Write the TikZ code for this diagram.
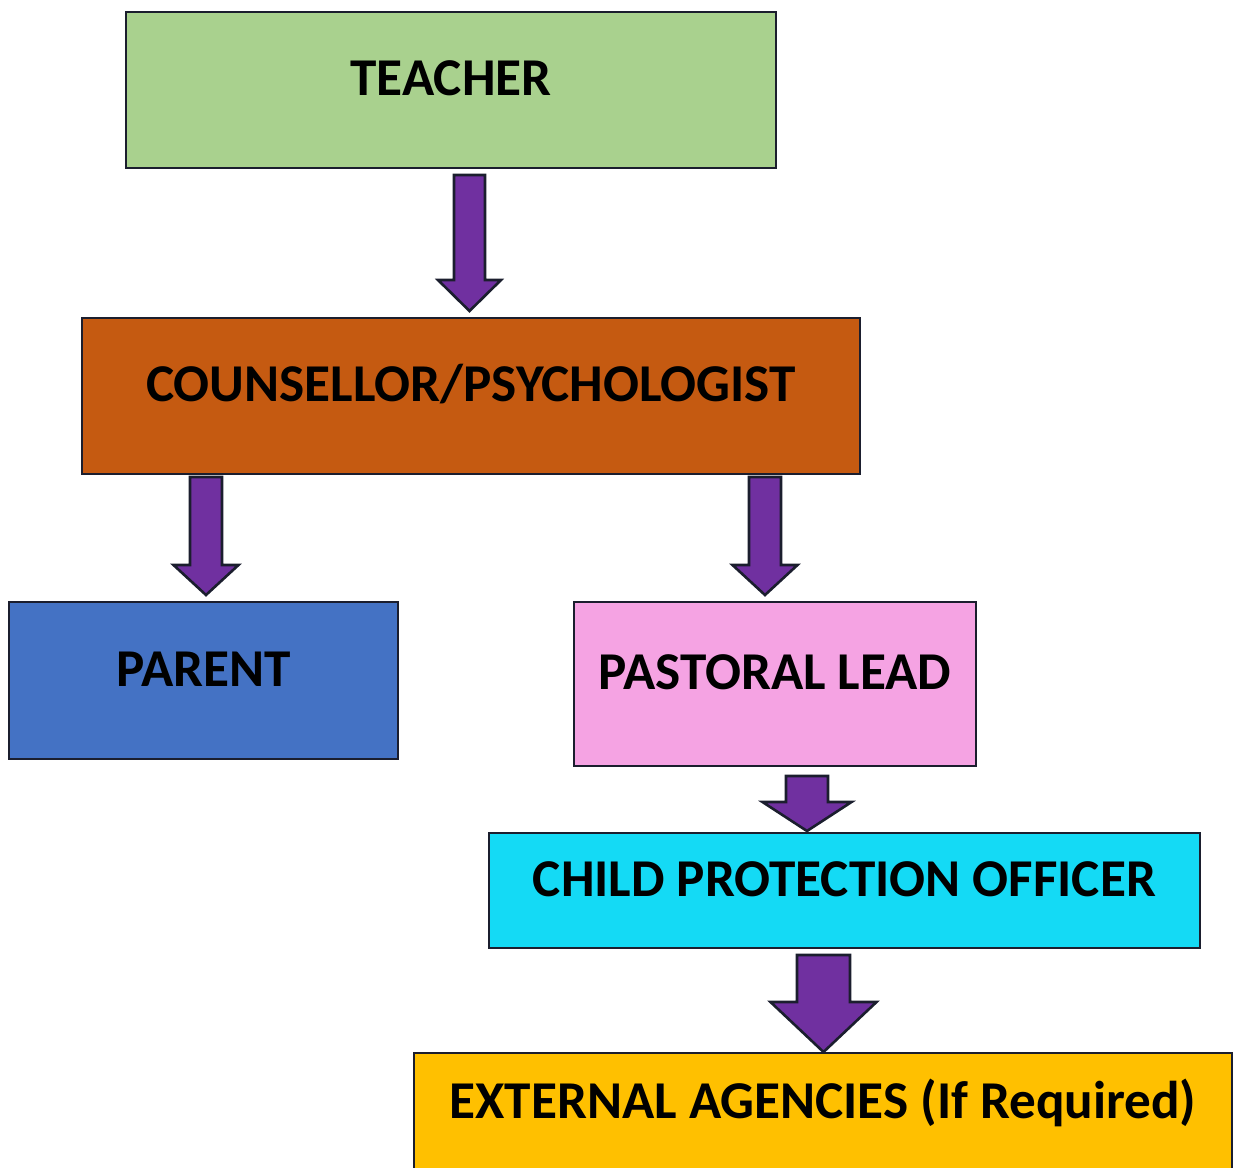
\documentclass[tikz,border=0pt]{standalone}
\usepackage{fontspec}
\setmainfont{Carlito}
\usetikzlibrary{calc}

\definecolor{teachergreen}{HTML}{A9D18E}
\definecolor{counsellorbrown}{HTML}{C55A11}
\definecolor{parentblue}{HTML}{4472C4}
\definecolor{pastoralpink}{HTML}{F5A3E3}
\definecolor{officercyan}{HTML}{14DAF5}
\definecolor{agencyyellow}{HTML}{FFC000}
\definecolor{flowpurple}{HTML}{7030A0}
\definecolor{edgeblue}{HTML}{1B1E2E}

\tikzset{
  box/.style={draw=edgeblue, line width=1pt, rectangle, inner sep=0pt,
    font=\fontsize{26.6}{30}\selectfont\bfseries, text=black,
    text height=14pt, text depth=8.5pt},
  flow/.style={draw=edgeblue, fill=flowpurple, line width=1.3pt, line join=miter}
}

% block arrow pointing down: tail, tip, half shaft, half head, head length
\newcommand\downblock[5]{%
  \draw[flow] ($(#1)+(-#3,0)$) -- ($(#2)+(-#3,-#5)$) -- ($(#2)+(-#4,-#5)$)
    -- (#2) -- ($(#2)+(#4,-#5)$) -- ($(#2)+(#3,-#5)$) -- ($(#1)+(#3,0)$) -- cycle;}

\begin{document}
\begin{tikzpicture}[x=0.5pt,y=-0.5pt]
  \useasboundingbox (0,0) rectangle (1238,1168);

  \node[box, fill=teachergreen, minimum width=325pt, minimum height=78pt]
    (teacher) at (451,90) {TEACHER};
  \node[box, fill=counsellorbrown, minimum width=389pt, minimum height=78pt]
    (counsellor) at (471,396) {COUNSELLOR/PSYCHOLOGIST};
  \node[box, fill=parentblue, minimum width=194.5pt, minimum height=78.5pt]
    (parent) at (203.5,680.5) {PARENT};
  \node[box, fill=pastoralpink, minimum width=201pt, minimum height=82pt]
    (pastoral) at (775,684) {PASTORAL LEAD};
  \node[box, fill=officercyan, minimum width=355.5pt, minimum height=57.5pt]
    (officer) at (844.5,890.5) {CHILD PROTECTION OFFICER};
  \node[box, fill=agencyyellow, minimum width=409pt, minimum height=60pt]
    (agencies) at (823,1113) {EXTERNAL AGENCIES (If Required)};

  % arrow tails and tips
  \coordinate (t1) at ($(teacher.south)+(18.5,6)$);
  \coordinate (h1) at (t1 |- counsellor.north);
  \coordinate (t2) at ($(counsellor.south)+(-265,2)$);
  \coordinate (h2) at (t2 |- parent.north);
  \coordinate (t3) at ($(counsellor.south)+(294,2)$);
  \coordinate (h3) at (t3 |- pastoral.north);
  \coordinate (t4) at ($(pastoral.south)+(32,9)$);
  \coordinate (h4) at (t4 |- officer.north);
  \coordinate (t5) at ($(officer.south)+(-21,6)$);
  \coordinate (h5) at (t5 |- agencies.north);

  \downblock{t1}{$(h1)+(0,-6)$}{15.5}{31.5}{31}
  \downblock{t2}{$(h2)+(0,-6)$}{16}{32.5}{30}
  \downblock{t3}{$(h3)+(0,-6)$}{16}{32.5}{30}
  \downblock{t4}{$(h4)+(0,-1)$}{21}{44.5}{29}
  \downblock{t5}{h5}{26.5}{53}{50}
\end{tikzpicture}
\end{document}
